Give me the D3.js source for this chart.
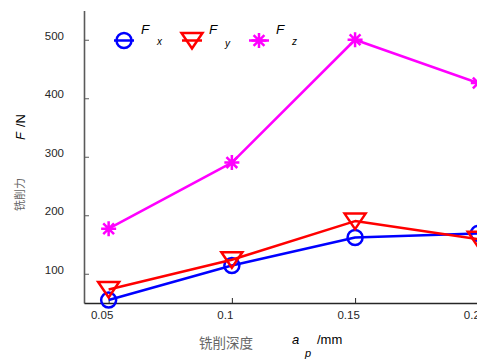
<!DOCTYPE html>
<html>
<head>
<meta charset="utf-8">
<script src="https://cdn.jsdelivr.net/npm/d3@7"></script>
<style>
  html, body { margin: 0; padding: 0; background: #fff; }
  svg { display: block; }
  text { font-family: "Liberation Sans", Arial, sans-serif; }
</style>
</head>
<body>
<svg id="chart" width="477" height="359"></svg>
<script>
// Milling depth a_p (mm) and measured milling force components (N)
const depth = [0.05, 0.1, 0.15, 0.2];
const Fx = [55, 114, 162, 169];
const Fy = [73, 124, 190, 159];
const Fz = [177, 290, 500, 426];
const xTicks = [0.05, 0.1, 0.15, 0.2];
const yTicks = [100, 200, 300, 400, 500];
const seriesNames = ["x", "y", "z"];

const svg = d3.select("#chart");
const x = d3.scaleLinear().domain([0.04, 0.2]).range([84, 478.3]);
const y = d3.scaleLinear().domain([50, 550]).range([303, 10.5]);

const axisColor = "#262626";

// y axis (ticks pointing into the plot)
const gy = svg.append("g").attr("transform", "translate(84,0)")
  .call(d3.axisLeft(y).tickValues(yTicks).tickSizeInner(-5).tickSizeOuter(0).tickFormat(d3.format("d")));
gy.select(".domain").attr("stroke", "#5a5a5a").attr("stroke-width", 1.6);
gy.selectAll(".tick line").attr("stroke", "#5a5a5a").attr("stroke-width", 1);
gy.selectAll(".tick text").attr("x", -20).attr("dy", "-0.05em")
  .attr("font-size", 11.5).attr("fill", axisColor)
  .attr("font-family", "Liberation Sans, Arial, sans-serif");

// x axis
const gx = svg.append("g").attr("transform", "translate(0,303)")
  .call(d3.axisBottom(x).tickValues(xTicks).tickSizeInner(-5).tickSizeOuter(0).tickFormat(d => String(d)));
gx.select(".domain").attr("stroke", axisColor).attr("stroke-width", 1.3);
gx.selectAll(".tick line").attr("stroke", axisColor).attr("stroke-width", 1);
gx.selectAll(".tick text").attr("y", 8).attr("dx", -7)
  .attr("font-size", 11.5).attr("fill", axisColor)
  .attr("font-family", "Liberation Sans, Arial, sans-serif");

// marker shapes
const circlePath = d3.symbol().type(d3.symbolCircle).size(Math.PI * 7.5 * 7.5)();
function trianglePath() {
  return "M-10.5,-7.5L10.5,-7.5L0,8Z";
}
function asteriskPath() {
  const r = 7.5, d = r * 0.72;
  return `M${-r},0L${r},0M0,${-r}L0,${r}M${-d},${-d}L${d},${d}M${-d},${d}L${d},${-d}`;
}

const series = [
  { values: Fx, color: "#0000ff", path: circlePath, name: seriesNames[0] },
  { values: Fy, color: "#ff0000", path: trianglePath(), name: seriesNames[1] },
  { values: Fz, color: "#ff00ff", path: asteriskPath(), name: seriesNames[2] }
];

const line = d3.line().x((d, i) => x(depth[i])).y(d => y(d));

series.forEach(s => {
  svg.append("path").datum(s.values)
    .attr("d", line).attr("fill", "none")
    .attr("stroke", s.color).attr("stroke-width", 2.5)
    .attr("stroke-linejoin", "round");
  svg.selectAll(null).data(s.values).enter().append("path")
    .attr("transform", (d, i) => `translate(${x(depth[i])},${y(d)})`)
    .attr("d", s.path).attr("fill", "none")
    .attr("stroke", s.color).attr("stroke-width", 2.5);
});

// legend
const legendX = [124, 192, 259];
series.forEach((s, i) => {
  const g = svg.append("g").attr("transform", `translate(${legendX[i]},40.5)`);
  g.append("line").attr("x1", -10).attr("x2", 10).attr("y1", 0).attr("y2", 0)
    .attr("stroke", s.color).attr("stroke-width", 2.5);
  g.append("path").attr("d", s.path).attr("fill", "none")
    .attr("stroke", s.color).attr("stroke-width", 2.5);
  g.append("text").attr("x", 17).attr("y", -7)
    .attr("font-size", 13.5).attr("font-style", "italic").attr("fill", "#000").text("F");
  g.append("text").attr("x", 33).attr("y", i === 1 ? 6 : 4)
    .attr("font-size", 10).attr("font-style", "italic").attr("fill", "#000").text(s.name);
});

// y axis title
const yt = svg.append("g").attr("transform", "translate(25,0) rotate(-90)");
yt.append("text").attr("x", -140).attr("y", 0)
  .attr("font-size", 13).attr("font-style", "italic").attr("fill", "#000").text("F");
yt.append("text").attr("x", -127).attr("y", 0)
  .attr("font-size", 13).attr("fill", "#000").text("/N");
yt.append("text").attr("x", -211).attr("y", -1)
  .attr("font-size", 11).attr("fill", "#666")
  .style("font-family", "'Noto Sans CJK SC', sans-serif").text("铣削力");

// x axis title
svg.append("text").attr("x", 199).attr("y", 348)
  .attr("font-size", 13.5).attr("fill", "#666")
  .style("font-family", "'Noto Sans CJK SC', sans-serif").text("铣削深度");
svg.append("text").attr("x", 292).attr("y", 344)
  .attr("font-size", 13).attr("font-style", "italic").attr("fill", "#000").text("a");
svg.append("text").attr("x", 305).attr("y", 357)
  .attr("font-size", 11).attr("font-style", "italic").attr("fill", "#000").text("p");
svg.append("text").attr("x", 317).attr("y", 344)
  .attr("font-size", 13).attr("fill", "#000").text("/mm");
</script>
</body>
</html>
